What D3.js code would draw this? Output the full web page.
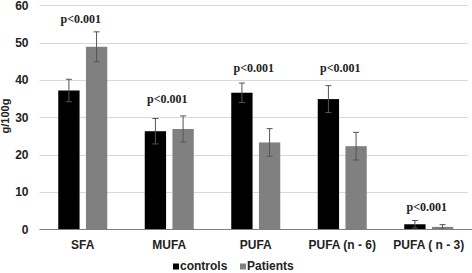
<!DOCTYPE html>
<html>
<head>
<meta charset="utf-8">
<script src="https://cdn.jsdelivr.net/npm/d3@7"></script>
<style>
  body { margin: 0; background: #fff; }
  svg { display: block; }
</style>
</head>
<body>
<div id="chart"></div>
<script>
// data
const categories = ["SFA", "MUFA", "PUFA", "PUFA (n - 6)", "PUFA ( n - 3)"];
const seriesNames = ["controls", "Patients"];
const controls = [37.2, 26.3, 36.6, 34.9, 1.4];
const controlsErr = [3.0, 3.4, 2.6, 3.6, 1.0];
const patients = [48.9, 26.9, 23.3, 22.3, 0.7];
const patientsErr = [4.0, 3.5, 3.7, 3.7, 0.6];
const pLabels = ["p<0.001", "p<0.001", "p<0.001", "p<0.001", "p<0.001"];
const pLabelValues = [56.4, 34.9, 43.2, 43.2, 6.1];
const yTicks = [0, 10, 20, 30, 40, 50, 60];

const width = 472;
const height = 273;
const margin = { top: 5, right: 0, bottom: 43, left: 39.5 };

const colors = { controls: "#000000", Patients: "#808080" };

const svg = d3.select("#chart")
    .append("svg")
    .attr("width", width)
    .attr("height", height);

const x0 = d3.scaleBand()
    .domain(categories)
    .range([margin.left, width - margin.right])
    .padding(0);

const x1 = d3.scaleBand()
    .domain(seriesNames)
    .range([x0.bandwidth() / 2 - 24.5, x0.bandwidth() / 2 + 24.5])
    .paddingInner(0.23)
    .paddingOuter(0);

const y = d3.scaleLinear()
    .domain([0, 60])
    .range([height - margin.bottom - 0.5, margin.top + 0.3]);

// gridlines
svg.append("g")
    .selectAll("line")
    .data(yTicks.filter(t => t > 0))
    .enter()
    .append("line")
    .attr("x1", margin.left)
    .attr("x2", width - 4)
    .attr("y1", d => Math.round(y(d)) + 0.5)
    .attr("y2", d => Math.round(y(d)) + 0.5)
    .attr("stroke", "#d9d9d9")
    .attr("stroke-width", 1);

// y axis labels
const yAxis = svg.append("g")
    .attr("transform", `translate(${margin.left},0)`)
    .call(d3.axisLeft(y).tickValues(yTicks).tickSize(0).tickPadding(11));
yAxis.select(".domain").remove();
yAxis.selectAll("text")
    .attr("font-family", "'Liberation Sans', Arial, sans-serif")
    .attr("font-weight", "bold")
    .attr("font-size", 12)
    .attr("fill", "#222");

// y title
svg.append("text")
    .attr("transform", `translate(9,116) rotate(-90)`)
    .attr("text-anchor", "middle")
    .attr("font-family", "'Liberation Sans', Arial, sans-serif")
    .attr("font-weight", "bold")
    .attr("font-size", 11)
    .attr("fill", "#222")
    .text("g/100g");

const rows = categories.map((c, i) => ({
    cat: c,
    values: [
        { key: "controls", v: controls[i], e: controlsErr[i] },
        { key: "Patients", v: patients[i], e: patientsErr[i] }
    ]
}));

const groups = svg.append("g")
    .selectAll("g")
    .data(rows)
    .enter()
    .append("g")
    .attr("transform", d => `translate(${x0(d.cat)},0)`);

groups.selectAll("rect")
    .data(d => d.values)
    .enter()
    .append("rect")
    .attr("x", d => x1(d.key))
    .attr("y", d => y(d.v))
    .attr("width", x1.bandwidth())
    .attr("height", d => y(0) - y(d.v))
    .attr("fill", d => colors[d.key]);

// error bars
const err = groups.selectAll(".err")
    .data(d => d.values)
    .enter()
    .append("g")
    .attr("class", "err")
    .attr("stroke", "#555")
    .attr("stroke-width", 1);

err.append("line")
    .attr("x1", d => x1(d.key) + x1.bandwidth() / 2)
    .attr("x2", d => x1(d.key) + x1.bandwidth() / 2)
    .attr("y1", d => y(d.v + d.e))
    .attr("y2", d => y(Math.max(0, d.v - d.e)));
err.append("line")
    .attr("x1", d => x1(d.key) + x1.bandwidth() / 2 - 3)
    .attr("x2", d => x1(d.key) + x1.bandwidth() / 2 + 3)
    .attr("y1", d => y(d.v + d.e))
    .attr("y2", d => y(d.v + d.e));
err.append("line")
    .attr("x1", d => x1(d.key) + x1.bandwidth() / 2 - 3)
    .attr("x2", d => x1(d.key) + x1.bandwidth() / 2 + 3)
    .attr("y1", d => y(Math.max(0, d.v - d.e)))
    .attr("y2", d => y(Math.max(0, d.v - d.e)));

// axis line
svg.append("line")
    .attr("x1", margin.left)
    .attr("x2", width)
    .attr("y1", y(0))
    .attr("y2", y(0))
    .attr("stroke", "#7f7f7f")
    .attr("stroke-width", 1.2);

// x labels
svg.append("g")
    .selectAll("text")
    .data(categories)
    .enter()
    .append("text")
    .attr("x", d => x0(d) + x0.bandwidth() / 2)
    .attr("y", 248.5)
    .attr("text-anchor", "middle")
    .attr("font-family", "'Liberation Sans', Arial, sans-serif")
    .attr("font-weight", "bold")
    .attr("font-size", 12)
    .attr("fill", "#222")
    .text(d => d);

// p-value labels
svg.append("g")
    .selectAll("text")
    .data(categories)
    .enter()
    .append("text")
    .attr("x", (d, i) => x0(d) + x0.bandwidth() / 2 - 2)
    .attr("y", (d, i) => y(pLabelValues[i]) + 4)
    .attr("text-anchor", "middle")
    .attr("font-family", "'Liberation Serif', 'Times New Roman', serif")
    .attr("font-weight", "bold")
    .attr("font-size", 12)
    .attr("fill", "#222")
    .text((d, i) => pLabels[i]);

// legend
const legend = svg.append("g")
    .selectAll("g")
    .data(seriesNames)
    .enter()
    .append("g")
    .attr("transform", (d, i) => `translate(${173 + i * 67},266)`);
legend.append("rect")
    .attr("x", 0)
    .attr("y", -2.5)
    .attr("width", 6)
    .attr("height", 6)
    .attr("fill", d => colors[d]);
legend.append("text")
    .attr("x", 7)
    .attr("y", 4)
    .attr("font-family", "'Liberation Sans', Arial, sans-serif")
    .attr("font-weight", "bold")
    .attr("font-size", 12)
    .attr("fill", "#222")
    .text(d => d);
</script>
</body>
</html>
